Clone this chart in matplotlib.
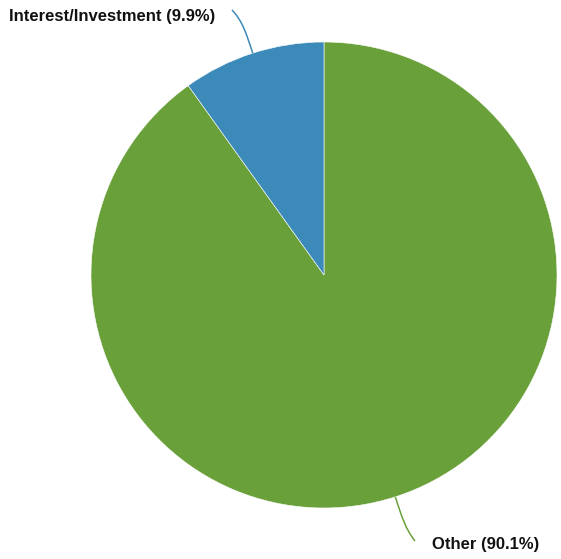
import numpy as np
import matplotlib
matplotlib.use("Agg")
import matplotlib.pyplot as plt
from matplotlib.path import Path
from matplotlib.patches import PathPatch

labels = ["Other", "Interest/Investment"]
values = [90.1, 9.9]
colors = ["#69a03a", "#3b8aba"]

W, H = 561, 559
cx, cy, r = 324, H - 275, 233

fig = plt.figure(figsize=(W / 100, H / 100), dpi=100)
ax = fig.add_axes([0, 0, 1, 1])

wedges, _ = ax.pie(values, colors=colors, startangle=90, counterclock=False,
                   center=(cx, cy), radius=r, frame=True,
                   wedgeprops=dict(edgecolor="white", linewidth=0.4))
ax.set_xlim(0, W)
ax.set_ylim(0, H)
ax.set_aspect("equal")
ax.axis("off")

# where the leader lines end and the labels sit
label_pos = {
    "Interest/Investment": dict(end=(232, H - 10), text=(215, H - 16), ha="right"),
    "Other": dict(end=(415, H - 541), text=(432, H - 544), ha="left"),
}

for w, lab, v, col in zip(wedges, labels, values, colors):
    mid = np.deg2rad((w.theta1 + w.theta2) / 2)
    d = np.array([np.cos(mid), np.sin(mid)])
    p0 = np.array([cx, cy]) + d * r
    p1 = np.array([cx, cy]) + d * (r + 22)
    p2 = np.array([cx, cy]) + d * (r + 34)
    lp = label_pos[lab]
    p3 = np.array(lp["end"])
    path = Path([p0, p1, p2, p3], [Path.MOVETO, Path.CURVE4, Path.CURVE4, Path.CURVE4])
    ax.add_patch(PathPatch(path, fill=False, edgecolor=col, linewidth=1.1))
    ax.text(lp["text"][0], lp["text"][1], f"{lab} ({v}%)", ha=lp["ha"], va="center",
            fontsize=12, fontweight="bold", family=["Liberation Sans", "DejaVu Sans"],
            color="#111111")

fig.savefig("out.png", dpi=100)
